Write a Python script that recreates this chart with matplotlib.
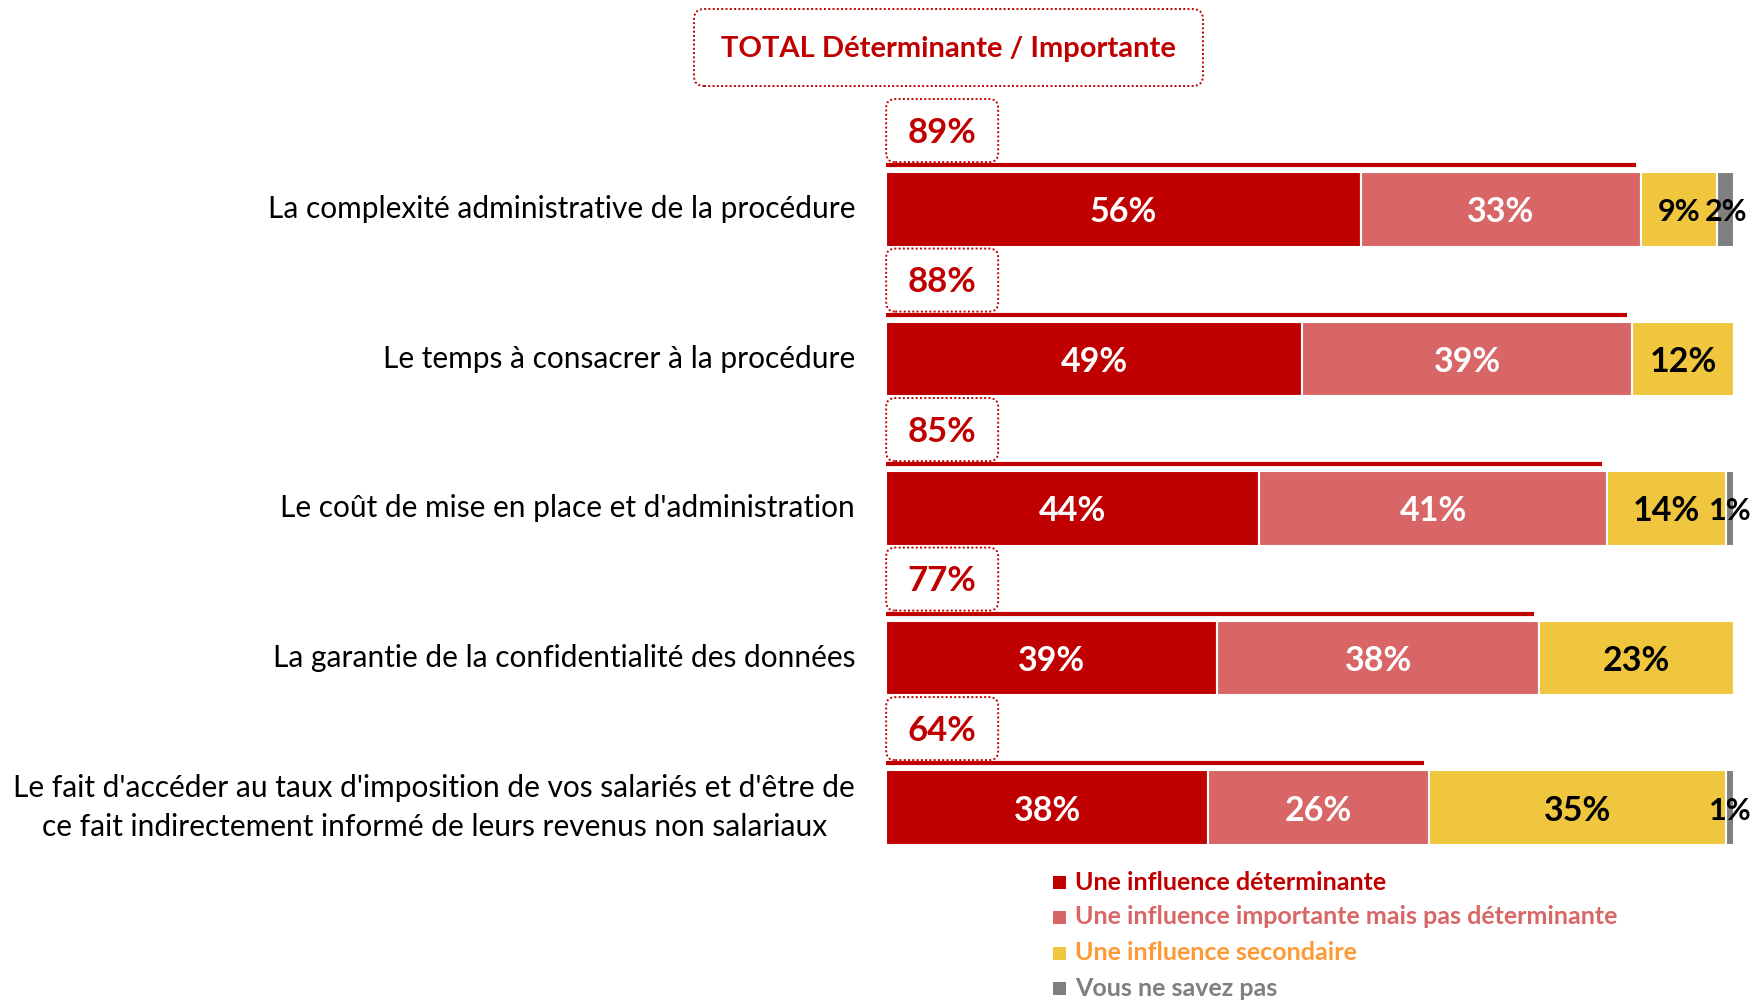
import matplotlib
matplotlib.use("Agg")
import matplotlib.pyplot as plt
from matplotlib.patches import FancyBboxPatch, Rectangle
from matplotlib.transforms import IdentityTransform

plt.rcParams['font.family'] = ['Lato', 'DejaVu Sans']

# ---- data ----
categories = [
    "La complexité administrative de la procédure",
    "Le temps à consacrer à la procédure",
    "Le coût de mise en place et d'administration",
    "La garantie de la confidentialité des données",
    "Le fait d'accéder au taux d'imposition de vos salariés et d'être de\nce fait indirectement informé de leurs revenus non salariaux",
]
series_names = [
    "Une influence déterminante",
    "Une influence importante mais pas déterminante",
    "Une influence secondaire",
    "Vous ne savez pas",
]
determinante = [56, 49, 44, 39, 38]
importante = [33, 39, 41, 38, 26]
secondaire = [9, 12, 14, 23, 35]
ne_sait_pas = [2, 0, 1, 0, 1]
totals = [89, 88, 85, 77, 64]
title_text = "TOTAL Déterminante / Importante"

series_values = [determinante, importante, secondaire, ne_sait_pas]
bar_colors = ["#C00000", "#D96666", "#F0C63F", "#7F7F7F"]
value_text_colors = ["white", "white", "black", "black"]
legend_text_colors = ["#C00000", "#D96666", "#FF9933", "#7F7F7F"]
RED = "#C00000"

W, H = 1752, 1001
fig = plt.figure(figsize=(W / 100, H / 100), dpi=100)
ax = fig.add_axes([0, 0, 1, 1])
ax.set_xlim(-104.5, 102.1)
ax.set_ylim(5.294, -1.401)
ax.axis('off')

ypos = list(range(len(categories)))
bar_h = 0.5

lefts = [0] * len(categories)
for vals, col, tcol in zip(series_values, bar_colors, value_text_colors):
    ax.barh(ypos, vals, left=lefts, height=bar_h, color=col,
            edgecolor='white', linewidth=1.5)
    for y, l, v in zip(ypos, lefts, vals):
        if v > 0:
            fs = 24.5 if v >= 10 else 22
            ax.text(l + v / 2, y + 0.02, f"{v}%", ha='center', va='center',
                    color=tcol, fontsize=fs, fontweight='bold')
    lefts = [a + b for a, b in zip(lefts, vals)]

# category labels
for y, cat in zip(ypos, categories):
    ax.text(-3.66, y, cat, ha='right', va='center', multialignment='center',
            fontsize=21.5, color='black', linespacing=1.45)

ident = IdentityTransform()
# totals: thin line + dotted box
for y, tot in zip(ypos, totals):
    ax.plot([0, tot - 0.6], [y - 0.295, y - 0.295], color=RED, lw=3.0,
            solid_capstyle='butt')
    x0, yc = ax.transData.transform((0, y - 0.528))
    box = FancyBboxPatch((x0, yc - 31.5), 112, 63,
                         boxstyle='round,pad=0,rounding_size=9',
                         transform=ident, fc='white', ec=RED, lw=1.4,
                         ls=(0, (1, 1.2)), clip_on=False)
    fig.add_artist(box)
    fig.text(x0 + 56, yc - 2, f"{tot}%", transform=ident, ha='center',
             va='center', color=RED, fontsize=25, fontweight='bold')

# title box
tb = FancyBboxPatch((694, H - 86), 509, 77,
                    boxstyle='round,pad=0,rounding_size=10',
                    transform=ident, fc='white', ec=RED, lw=1.4,
                    ls=(0, (1, 1.2)), clip_on=False)
fig.add_artist(tb)
fig.text(948.5, H - 48.5, title_text, transform=ident, ha='center',
         va='center', color=RED, fontsize=21, fontweight='bold')

# legend
leg_y = [882, 917, 953, 988]
for name, col, tcol, ly in zip(series_names, bar_colors, legend_text_colors, leg_y):
    sq = Rectangle((1053, H - ly - 6.5), 13, 13, transform=ident,
                   fc=col, ec='none', clip_on=False)
    fig.add_artist(sq)
    fig.text(1075, H - ly, name, transform=ident, ha='left', va='center',
             color=tcol, fontsize=18, fontweight='bold')

fig.savefig("out.png", dpi=100)
